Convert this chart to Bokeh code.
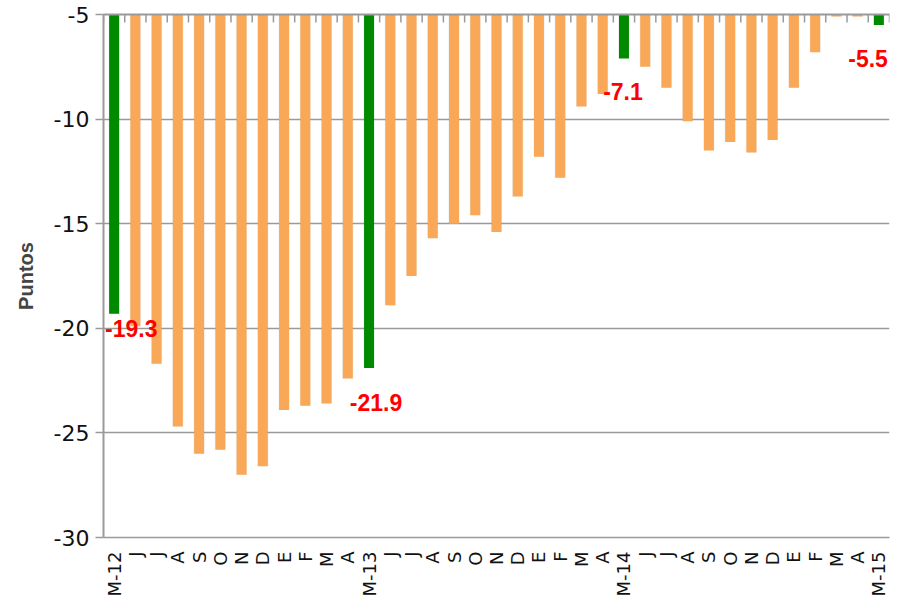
import math
from bokeh.plotting import figure
from bokeh.models import FixedTicker, LinearAxis, Range1d, ColumnDataSource, Label
from bokeh.embed import file_html
from bokeh.resources import INLINE

months = ["M-12", "J", "J", "A", "S", "O", "N", "D", "E", "F", "M", "A",
          "M-13", "J", "J", "A", "S", "O", "N", "D", "E", "F", "M", "A",
          "M-14", "J", "J", "A", "S", "O", "N", "D", "E", "F", "M", "A",
          "M-15"]
vals = [-19.3, -19.9, -21.7, -24.7, -26.0, -25.8, -27.0, -26.6, -23.9, -23.7, -23.6, -22.4,
        -21.9, -18.9, -17.5, -15.7, -15.0, -14.6, -15.4, -13.7, -11.8, -12.8, -9.4, -8.8,
        -7.1, -7.5, -8.5, -10.1, -11.5, -11.1, -11.6, -11.0, -8.5, -6.8, -5.1, -5.1,
        -5.5]
highlight = [0, 12, 24, 36]
label_texts = ["-19.3", "-21.9", "-7.1", "-5.5"]
y_ticks = [-30, -25, -20, -15, -10, -5]
y_tick_labels = ["-30", "-25", "-20", "-15", "-10", "-5"]

# layout-only settings for the value labels (pixel offsets / alignment)
label_dx = [-9, 7, -1, 9]
label_dy = [-15, -34, -33, -34]
label_align = ["left", "center", "center", "right"]

ORANGE = "#F9A857"
GREEN = "#008A00"
GRAY = "#9A9A9A"

n = len(months)
xs = list(range(1, n + 1))
colors = [GREEN if i in highlight else ORANGE for i in range(n)]
src = ColumnDataSource(dict(x=xs, v=vals, c=colors))
bounds = [i + 0.5 for i in range(n + 1)]
bsrc = ColumnDataSource(dict(x=bounds, y=[y_ticks[-1]] * len(bounds)))

p = figure(width=895, height=604, x_range=Range1d(0.5, n + 0.5), y_range=Range1d(-30, -5),
           output_backend="svg", toolbar_location=None,
           min_border_left=103, min_border_right=6, min_border_top=14, min_border_bottom=67)
p.outline_line_color = None
p.background_fill_color = "white"
p.xgrid.visible = False
p.ygrid.ticker = FixedTicker(ticks=y_ticks)
p.ygrid.grid_line_color = GRAY
p.ygrid.grid_line_width = 1.5

# subtle drop shadow
p.vbar(x="x", width=0.52, top=-5, bottom="v", source=src, fill_color="black",
       fill_alpha=0.07, line_color=None)
p.vbar(x="x", width=0.47, top=-5, bottom="v", source=src, fill_color="c", line_color=None)

# category separator ticks hanging from the top axis (lower half only is visible)
p.scatter(x="x", y="y", source=bsrc, marker="dash", angle=math.pi / 2, size=16,
          line_color=GRAY, line_width=1.5)

for i, t, dx, dy, al in zip(highlight, label_texts, label_dx, label_dy, label_align):
    p.add_layout(Label(x=xs[i], y=vals[i], text=t, x_offset=dx, y_offset=dy,
                       text_color="#FF0000", text_font="Liberation Sans",
                       text_font_style="bold", text_font_size="23px",
                       text_align=al, text_baseline="middle"))

# y axis
ya = p.yaxis[0]
ya.ticker = FixedTicker(ticks=y_ticks)
ya.major_label_overrides = {t: s for t, s in zip(y_ticks, y_tick_labels)}
ya.axis_label = "Puntos"
ya.axis_label_text_font = "Liberation Sans"
ya.axis_label_text_font_style = "bold"
ya.axis_label_text_font_size = "20px"
ya.axis_label_standoff = 14
ya.major_label_text_font = "DejaVu Sans"
ya.major_label_text_font_size = "22px"
ya.major_label_text_color = "#111111"
ya.major_tick_out = 8
ya.major_tick_in = 0
ya.minor_tick_line_color = None
ya.axis_line_color = GRAY
ya.axis_line_width = 2
ya.major_tick_line_color = GRAY
ya.major_tick_line_width = 1.5
ya.major_label_standoff = 6

# x axis (bottom)
xa = p.xaxis[0]
xa.ticker = FixedTicker(ticks=xs)
xa.major_label_overrides = {x: m for x, m in zip(xs, months)}
xa.major_label_orientation = math.pi / 2
xa.major_label_text_font = "DejaVu Sans"
xa.major_label_text_font_size = "18px"
xa.major_label_text_color = "#111111"
xa.major_tick_line_color = None
xa.minor_tick_line_color = None
xa.axis_line_color = GRAY
xa.axis_line_width = 1.5
xa.major_label_standoff = 8

# top axis line only
top = LinearAxis(ticker=FixedTicker(ticks=[]), axis_line_color=GRAY, axis_line_width=2,
                 major_tick_line_color=None, minor_tick_line_color=None)
p.add_layout(top, "above")

open("out.html", "w").write(file_html(p, INLINE))
